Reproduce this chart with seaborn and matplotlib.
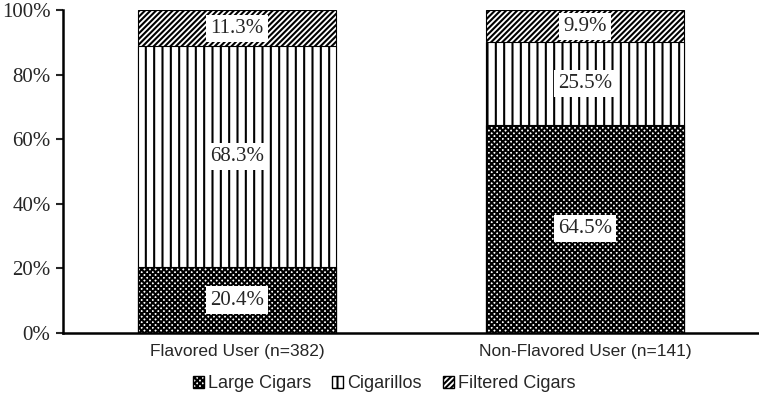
import numpy as np
import pandas as pd
import matplotlib.pyplot as plt
import seaborn as sns
from matplotlib.patches import Patch

# =========================================================
# DATA
# =========================================================
groups = ["Flavored User (n=382)", "Non-Flavored User (n=141)"]
segments = ["Large Cigars", "Cigarillos", "Filtered Cigars"]
large_cigars = [20.4, 64.5]
cigarillos = [68.3, 25.5]
filtered_cigars = [11.3, 9.9]
y_ticks = [0, 20, 40, 60, 80, 100]

hatches = {"Large Cigars": "xxxxxx", "Cigarillos": "||", "Filtered Cigars": "//////"}

# =========================================================
# STYLE
# =========================================================
sns.set_style("white")
plt.rcParams["hatch.linewidth"] = 1.5
plt.rcParams["hatch.color"] = "black"

serif = ["Liberation Serif", "DejaVu Serif"]
sans = ["Liberation Sans", "DejaVu Sans"]

fig = plt.figure(figsize=(7.59, 4.07), dpi=100)
ax = fig.add_axes([63 / 759, 1 - 333 / 407, 1 - 63 / 759, 323 / 407])

# cumulative heights, drawn tallest first so each layer sits on top
values = np.array([large_cigars, cigarillos, filtered_cigars])
cum = values.cumsum(axis=0)

for i in reversed(range(len(segments))):
    df = pd.DataFrame({"group": groups, "value": cum[i]})
    n_before = len(ax.patches)
    sns.barplot(data=df, x="group", y="value", color="white", width=0.57,
                edgecolor="black", linewidth=0.8, ax=ax)
    for p in ax.patches[n_before:]:
        p.set_hatch(hatches[segments[i]])
        p.set_facecolor("white")

# value labels
for j in range(len(groups)):
    bottom = 0
    for i in range(len(segments)):
        v = values[i][j]
        ax.text(j, bottom + v / 2, f"{v:.1f}%", ha="center", va="center",
                fontsize=15, family=serif,
                bbox=dict(facecolor="white", edgecolor="none", pad=3))
        bottom += v

# =========================================================
# AXES
# =========================================================
ax.set_xlim(-0.5, 1.5)
ax.set_ylim(0, 100)
ax.set_yticks(y_ticks)
ax.set_yticklabels([f"{t}%" for t in y_ticks], family=serif, fontsize=15)
ax.set_xticks(range(len(groups)))
ax.set_xticklabels(groups, family=sans, fontsize=12.5)
ax.set_xlabel("")
ax.set_ylabel("")
ax.tick_params(axis="y", direction="out", length=5, width=1.5, left=True, pad=4)
ax.tick_params(axis="x", length=0, pad=8)
sns.despine(ax=ax)
for s in ["left", "bottom"]:
    ax.spines[s].set_linewidth(1.8)
    ax.spines[s].set_color("black")

handles = [Patch(facecolor="white", edgecolor="black", hatch=hatches[s], label=s)
           for s in segments]
fig.legend(handles=handles, loc="center", bbox_to_anchor=(0.506, 1 - 384 / 407),
           ncol=3, frameon=False, prop={"family": sans, "size": 13},
           handlelength=0.6, handleheight=0.6, handletextpad=0.2, columnspacing=1.2)

fig.savefig("out.png", dpi=100)
